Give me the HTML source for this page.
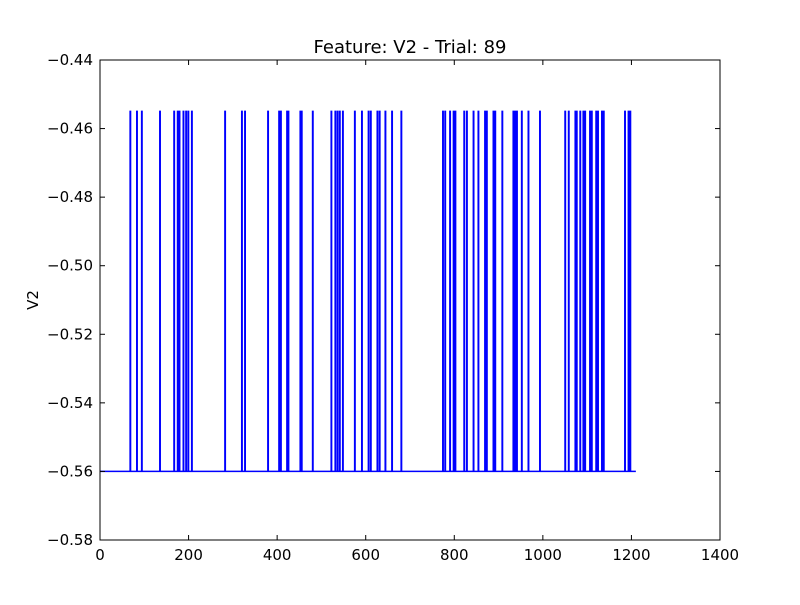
<!DOCTYPE html>
<html><head><meta charset="utf-8"><style>
body{margin:0;background:#fff;}
svg text{font-family:"DejaVu Sans","Liberation Sans",sans-serif;}
</style></head><body>
<svg id="chart" width="800" height="600" xmlns="http://www.w3.org/2000/svg">
<rect width="800" height="600" fill="#fff"/>
<text x="410" y="53" font-size="18" text-anchor="middle">Feature: V2 - Trial: 89</text>
<g id="plot"></g>
<text transform="translate(38,300) rotate(-90)" font-size="15" text-anchor="middle">V2</text>
</svg>
<script>
const spikeTimes=[68,83,94,135,167,175,179,188,194,199,207,282,320,327,379,404,408,422,425,452,455,480,522,531,536,541,548,575,591,606,611,626,631,644,659,680,774,779,790,798,802,822,828,843,854,869,873,888,892,908,933,937,941,952,967,993,1050,1058,1073,1076,1084,1091,1095,1106,1110,1120,1124,1133,1137,1185,1193,1197];
const baseValue=-0.56;
const spikeValue=-0.455;
const endTime=1210;
const xTicks=[0,200,400,600,800,1000,1200,1400];
const yTicks=[-0.58,-0.56,-0.54,-0.52,-0.50,-0.48,-0.46,-0.44];
const L=100,R=720,T=60,B=540;
const xs=v=>L+(v-0)/1400*(R-L);
const ys=v=>B-(v+0.58)/0.14*(B-T);
const NS="http://www.w3.org/2000/svg";
const g=document.getElementById('plot');
function mk(t,a){const e=document.createElementNS(NS,t);for(const k in a)e.setAttribute(k,a[k]);g.appendChild(e);return e;}
let d=`M${xs(0)},${ys(baseValue)}`;
spikeTimes.forEach(t=>{d+=` L${xs(t)},${ys(baseValue)} L${xs(t)},${ys(spikeValue)} L${xs(t+1)},${ys(spikeValue)} L${xs(t+1)},${ys(baseValue)}`;});
d+=` L${xs(endTime)},${ys(baseValue)}`;
const line=mk('path',{d:d,fill:'none',stroke:'#0000ff','stroke-width':1.5});


const frame=mk('rect',{x:L,y:T,width:R-L,height:B-T,fill:'none',stroke:'#000','stroke-width':1});


xTicks.forEach(v=>{const x=xs(v);
mk('line',{x1:x,x2:x,y1:B,y2:B-5,stroke:'#000'});mk('line',{x1:x,x2:x,y1:T,y2:T+5,stroke:'#000'});
const t=mk('text',{x:x,y:B+20,'font-size':15,'text-anchor':'middle'});t.textContent=v;

});
yTicks.forEach(v=>{const y=ys(v);
mk('line',{x1:L,x2:L+5,y1:y,y2:y,stroke:'#000'});mk('line',{x1:R,x2:R-5,y1:y,y2:y,stroke:'#000'});
const t=mk('text',{x:L-7,y:y+5,'font-size':15,'text-anchor':'end'});t.textContent='\u2212'+Math.abs(v).toFixed(2);

});
</script>
</body></html>
